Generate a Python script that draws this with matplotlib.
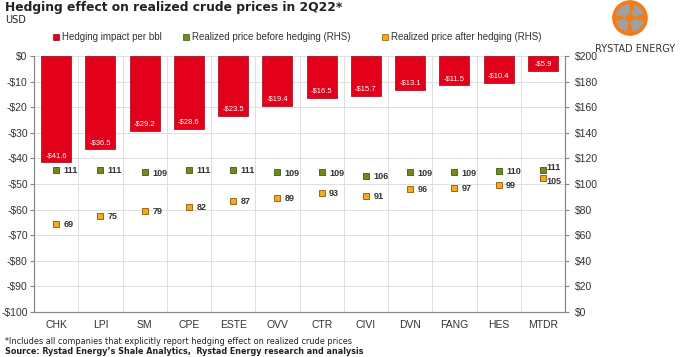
import matplotlib.pyplot as plt
from matplotlib.lines import Line2D
from matplotlib.patches import Circle, Wedge
import numpy as np

companies = ["CHK", "LPI", "SM", "CPE", "ESTE", "OVV", "CTR", "CIVI", "DVN", "FANG", "HES", "MTDR"]
hedging_impact = [-41.6, -36.5, -29.2, -28.6, -23.5, -19.4, -16.5, -15.7, -13.1, -11.5, -10.4, -5.9]
price_before = [111, 111, 109, 111, 111, 109, 109, 106, 109, 109, 110, 111]
price_after = [69, 75, 79, 82, 87, 89, 93, 91, 96, 97, 99, 105]

red = "#E2001A"
green = "#6E8B1E"
orange = "#F4A81D"
grid_c = "#DEDEDE"
text_c = "#333333"
arial = "Liberation Sans"

W, H = 680, 357
fig = plt.figure(figsize=(6.8, 3.57), dpi=100)
left, right, top, bottom = 34, 565, 56, 312
ax = fig.add_axes([left / W, 1 - bottom / H, (right - left) / W, (bottom - top) / H])
ax2 = ax.twinx()

x = np.arange(len(companies))
ax.bar(x, hedging_impact, width=0.68, color=red, edgecolor="#A00012", linewidth=0.5, zorder=3)
for xi, v in zip(x, hedging_impact):
    ax.text(xi, v + 2.7, f"-${abs(v):.1f}", color="white", fontsize=5.5, family=arial,
            ha="center", va="center", zorder=4)

ax.set_xlim(-0.5, len(companies) - 0.5)
ax.set_ylim(-100, 0)
lt = np.arange(-100, 1, 10)
ax.set_yticks(lt)
ax.set_yticklabels(["$0" if t == 0 else f"-${abs(t)}" for t in lt], family=arial)
ax.set_xticks(x)
ax.set_xticklabels(companies, family=arial)
ax.set_xticks(np.arange(-0.5, len(companies), 1), minor=True)
ax.grid(True, which="minor", axis="x", color=grid_c, linewidth=0.7, zorder=0)
ax.grid(True, which="major", axis="y", color=grid_c, linewidth=0.7, zorder=0)
ax.tick_params(axis="x", which="both", length=0, labelsize=7.5, colors=text_c, pad=6)
ax.tick_params(axis="y", length=3, labelsize=7.5, colors=text_c, color="#888888", pad=1.5)

ax2.set_ylim(0, 200)
rt = np.arange(0, 201, 20)
ax2.set_yticks(rt)
ax2.set_yticklabels([f"${t}" for t in rt], family=arial)
ax2.tick_params(axis="y", length=3, labelsize=7.5, colors=text_c, color="#888888", pad=4)
ax2.scatter(x, price_before, marker="s", s=13, color=green, edgecolor="#3F5A10", linewidth=0.6, zorder=5)
ax2.scatter(x, price_after, marker="s", s=13, color=orange, edgecolor="#8A5A00", linewidth=0.6, zorder=5)
for xi, b, a in zip(x, price_before, price_after):
    kw = dict(fontsize=6.5, fontweight="bold", color=text_c, va="center", family=arial)
    if xi == len(companies) - 1:
        ax2.text(xi + 0.08, b + 1.5, str(b), **kw)
        ax2.text(xi + 0.08, a - 3, str(a), **kw)
    else:
        ax2.text(xi + 0.17, b - 0.5, str(b), **kw)
        ax2.text(xi + 0.17, a - 0.5, str(a), **kw)

for a in (ax, ax2):
    a.spines["top"].set_visible(False)
    for s in ("left", "right", "bottom"):
        a.spines[s].set_color("#888888")
        a.spines[s].set_linewidth(0.8)

# legend
leg_items = [
    (56, red, "#A00012", "Hedging impact per bbl"),
    (186, green, "#3F5A10", "Realized price before hedging (RHS)"),
    (385, orange, "#8A5A00", "Realized price after hedging (RHS)"),
]
for lx, fc, ec, lab in leg_items:
    fig.add_artist(Line2D([lx / W], [1 - 37 / H], marker="s", markersize=4, color=fc,
                          markeredgecolor=ec, markeredgewidth=0.5, linestyle="none"))
    fig.text((lx + 6) / W, 1 - 37 / H, lab, fontsize=7, family=arial, color=text_c, va="center")

fig.text(5 / W, 1 - 8 / H, "Hedging effect on realized crude prices in 2Q22*", fontsize=8.8,
         fontweight="bold", color="#222222", va="center")
fig.text(5 / W, 1 - 20 / H, "USD", fontsize=7, color="#222222", va="center")
fig.text(5 / W, 1 - 342 / H, "*Includes all companies that explicitly report hedging effect on realized crude prices",
         fontsize=5.9, color="#222222", va="center")
fig.text(5 / W, 1 - 351 / H, "Source: Rystad Energy\u2019s Shale Analytics,  Rystad Energy research and analysis",
         fontsize=5.8, fontweight="bold", color="#222222", va="center")

# logo
lax = fig.add_axes([612 / W, 1 - 36 / H, 36 / W, 36 / H])
lax.set_xlim(-1.05, 1.05)
lax.set_ylim(-1.05, 1.05)
lax.axis("off")
lax.add_patch(Circle((0, 0), 1, color="#F07D1A"))
for t1, t2 in [(95, 165), (195, 250), (285, 345), (20, 65)]:
    lax.add_patch(Wedge((0, 0), 0.78, t1, t2, width=0.5, color="#A0A0A0"))
fig.text(635 / W, 1 - 49 / H, "RYSTAD ENERGY", fontsize=7, color="#333333", ha="center", va="center")

fig.savefig("out.png", dpi=100)
